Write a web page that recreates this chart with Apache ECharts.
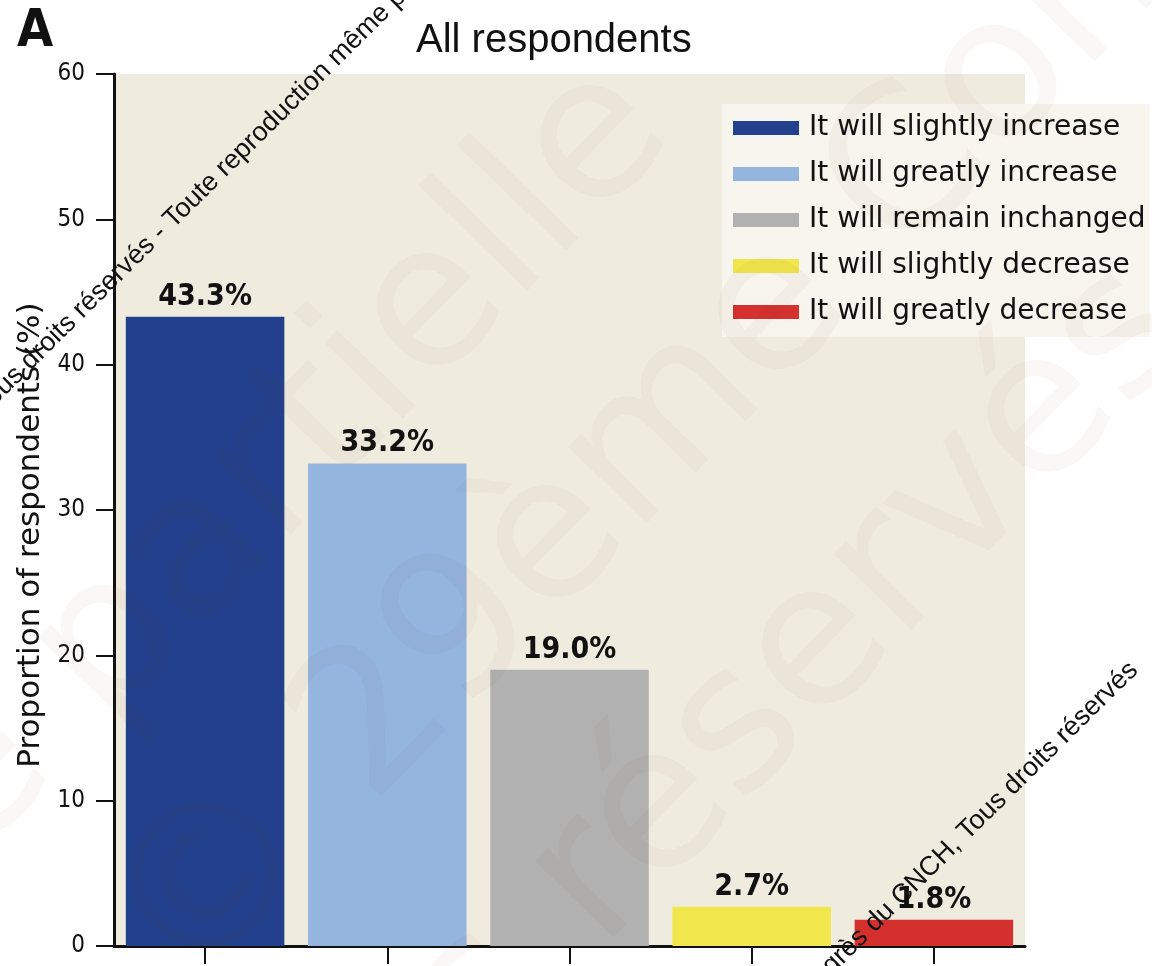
<!DOCTYPE html>
<html>
<head>
<meta charset="utf-8">
<script src="https://cdn.jsdelivr.net/npm/echarts@6/dist/echarts.min.js"></script>
<style>
  html, body { margin: 0; padding: 0; background: #ffffff; }
  #chart { width: 1152px; height: 966px; }
</style>
</head>
<body>
<div id="chart"></div>
<script>
// ---- data ----
const categories = [
  'It will slightly increase',
  'It will greatly increase',
  'It will remain inchanged',
  'It will slightly decrease',
  'It will greatly decrease'
];
const values = [43.3, 33.2, 19.0, 2.7, 1.8];
const colors = ['#22408b', '#93b5de', '#b1b1b1', '#f1e64b', '#d3302e'];
const yTicks = [0, 10, 20, 30, 40, 50, 60];
const titleText = 'All respondents';
const panelLetter = 'A';
const yAxisName = 'Proportion of respondents (%)';

const narrow = '"DejaVu Sans Condensed", "Liberation Sans Narrow", sans-serif';
const regular = '"Liberation Sans", Arial, sans-serif';
const wide = '"DejaVu Sans", sans-serif';

const chart = echarts.init(document.getElementById('chart'), null, { renderer: 'canvas' });

const series = categories.map((name, i) => ({
  name: name,
  type: 'bar',
  stack: 'all',
  barCategoryGap: '13%',
  data: categories.map((c, j) => (j === i ? values[i] : '-')),
  itemStyle: { color: colors[i] },
  label: {
    show: true,
    position: 'top',
    distance: 5,
    formatter: p => p.value.toFixed(1) + '%',
    fontFamily: narrow,
    fontWeight: 'bold',
    fontSize: 30,
    color: '#111'
  },
  emphasis: { disabled: true }
}));

const wmStyle = { fill: '#111', fontFamily: regular, fontSize: 27 };
const bigWm = { fill: 'rgba(130,70,50,0.04)', fontFamily: wide, fontSize: 200 };
const rot = 0.78;

chart.setOption({
  animation: false,
  backgroundColor: '#ffffff',
  title: {
    text: titleText,
    left: 411,
    top: 16,
    textStyle: { fontFamily: regular, fontWeight: 'normal', fontSize: 40, color: '#111' }
  },
  legend: {
    orient: 'vertical',
    left: 722,
    top: 104,
    backgroundColor: '#f7f5ee',
    padding: [9, 4, 10, 11],
    itemWidth: 66,
    itemHeight: 14,
    itemGap: 16,
    icon: 'rect',
    data: categories,
    textStyle: { fontFamily: wide, fontSize: 28, lineHeight: 30, color: '#111', padding: [0, 0, 0, 5] }
  },
  grid: {
    left: 114, right: 127, top: 74, bottom: 20,
    show: true, backgroundColor: '#efecdf', borderWidth: 0
  },
  xAxis: {
    type: 'category',
    data: categories,
    axisLine: { lineStyle: { color: '#111', width: 3 } },
    axisTick: { show: true, alignWithLabel: true, length: 18, lineStyle: { color: '#111', width: 2 } },
    axisLabel: { show: false }
  },
  yAxis: {
    type: 'value',
    min: yTicks[0],
    max: yTicks[yTicks.length - 1],
    interval: 10,
    name: yAxisName,
    nameLocation: 'middle',
    nameGap: 62,
    nameTextStyle: { fontFamily: wide, fontSize: 31, color: '#111', padding: [0, 50, 0, 0] },
    axisLine: { show: true, lineStyle: { color: '#111', width: 3 } },
    axisTick: { show: true, length: 18, lineStyle: { color: '#111', width: 2 } },
    axisLabel: { fontFamily: narrow, fontSize: 24, color: '#111', margin: 29 },
    splitLine: { show: false }
  },
  series: series,
  graphic: [
    {
      type: 'text', x: 640, y: 100, rotation: 0.8, z: 50, silent: true,
      style: Object.assign({ text: 'Toute reproduction même partielle', align: 'right', verticalAlign: 'middle' }, bigWm)
    },
    {
      type: 'text', x: 150, y: 960, rotation: 0.8, z: 50, silent: true,
      style: Object.assign({ text: '© 29ème Congrès du CNCH', align: 'left', verticalAlign: 'middle' }, bigWm)
    },
    {
      type: 'text', x: 1160, y: 300, rotation: 0.8, z: 50, silent: true,
      style: Object.assign({ text: 'Tous droits réservés', align: 'right', verticalAlign: 'middle' }, bigWm)
    },
    {
      type: 'text', left: 17, top: 6, z: 100,
      style: { text: panelLetter, fill: '#111', fontFamily: narrow, fontWeight: 'bold', fontSize: 52 }
    },
    {
      type: 'text', x: 168, y: 224, rotation: rot, z: 100, silent: true,
      style: Object.assign({ text: 'Tous droits réservés - ', align: 'right', verticalAlign: 'middle' }, wmStyle)
    },
    {
      type: 'text', x: 168, y: 224, rotation: rot, z: 100, silent: true,
      style: Object.assign({ text: 'Toute reproduction même partielle interdite', align: 'left', verticalAlign: 'middle' }, wmStyle)
    },
    {
      type: 'text', x: 962, y: 836, rotation: rot, z: 100, silent: true,
      style: Object.assign({ text: '© 29ème Congrès du CNCH, ', align: 'right', verticalAlign: 'middle' }, wmStyle)
    },
    {
      type: 'text', x: 962, y: 836, rotation: rot, z: 100, silent: true,
      style: Object.assign({ text: 'Tous droits réservés', align: 'left', verticalAlign: 'middle' }, wmStyle)
    }
  ]
});
</script>
</body>
</html>
